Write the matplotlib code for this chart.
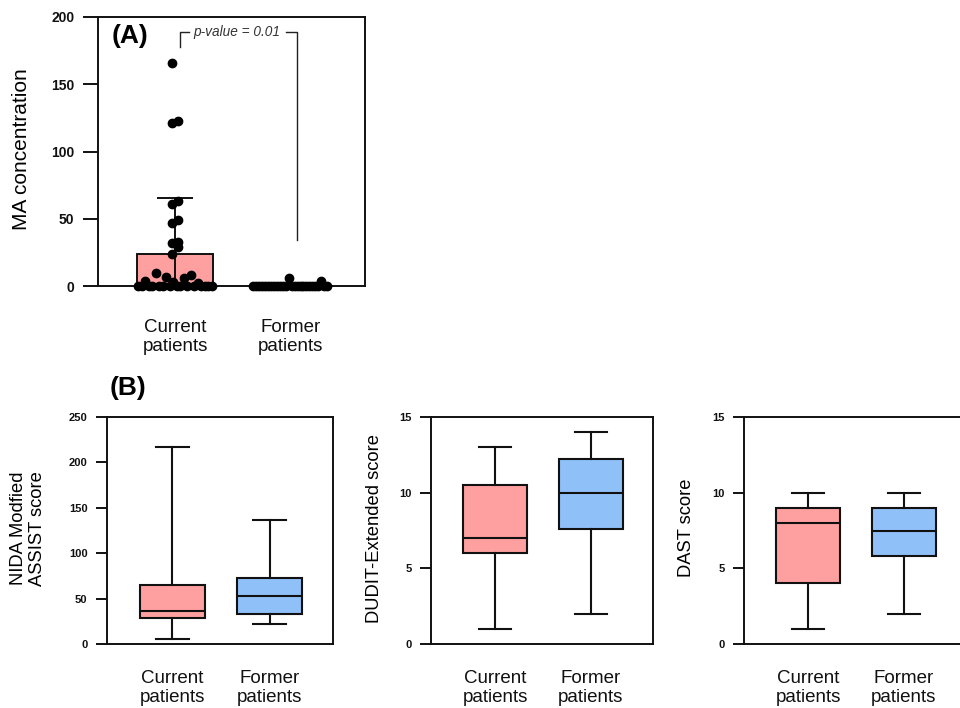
import numpy as np
import matplotlib
matplotlib.use('Agg')
import matplotlib.pyplot as plt

plt.rcParams['font.family'] = ['Liberation Sans', 'DejaVu Sans']

# ---- data ---------------------------------------------------------------
groups = ['Current\npatients', 'Former\npatients']

# (A) MA concentration, individual subjects
current_ma = [166, 123, 121, 63, 61, 49, 47, 33, 32, 29, 24,
              0, 0, 4, 0, 0, 10, 0, 0, 7, 0, 3, 0, 0, 6, 0, 8, 0, 2, 0, 0, 0, 0]
former_ma = [0, 0, 0, 0, 0, 0, 0, 0, 0, 0, 0, 0, 6, 0, 0, 0, 0, 0, 0, 0,
             0, 0, 0, 4, 0, 0]
p_text = 'p-value = 0.01'

# (B) box plot summaries: whislo, q1, med, q3, whishi
assist_current = [5, 29, 36, 65, 217]
assist_former = [22, 33, 53, 73, 137]
dudit_current = [1, 6, 7, 10.5, 13]
dudit_former = [2, 7.6, 10, 12.2, 14]
dast_current = [1, 4, 8, 9, 10]
dast_former = [2, 5.8, 7.5, 9, 10]

ylabels_b = ['NIDA Modfied\nASSIST score', 'DUDIT-Extended score', 'DAST score']
ylims_b = [250, 15, 15]
yticks_b = [np.arange(0, 251, 50), np.arange(0, 16, 5), np.arange(0, 16, 5)]

pink = '#FFA0A0'
blue = '#90C0F8'
W, H = 960, 708


def style_axes(ax, ticksize, ticklen):
    for s in ax.spines.values():
        s.set_linewidth(1.4)
        s.set_color('#111111')
    ax.tick_params(axis='y', direction='out', length=ticklen, width=1.4,
                   labelsize=ticksize, pad=6, colors='#111111')
    ax.tick_params(axis='x', length=0, labelsize=13.5, colors='#111111')
    for t in ax.get_yticklabels():
        t.set_fontweight('bold')
    ax.set_xlim(-0.67, 1.65)
    ax.set_xticks([0, 1])
    ax.set_xticklabels(groups, linespacing=1.15)


def spread(vals, width):
    vals = np.asarray(vals, dtype=float)
    x = np.zeros(len(vals))
    low = np.where(vals < 12)[0]
    high = np.where(vals >= 12)[0]
    x[low] = np.linspace(-width, width, len(low))
    x[high] = 0.025 * np.where(np.arange(len(high)) % 2 == 0, -1, 1)
    return x


fig = plt.figure(figsize=(W / 100, H / 100), dpi=100)

# ---- panel A ------------------------------------------------------------
axA = fig.add_axes([98 / W, 1 - 286 / H, 267 / W, 269 / H])
means = [np.mean(current_ma), np.mean(former_ma)]
sds = [np.std(current_ma, ddof=1), np.std(former_ma, ddof=1)]
axA.bar([0, 1], means, width=0.66, color=pink, edgecolor='#111111',
        linewidth=1.4, zorder=1)
axA.errorbar([0, 1], means, yerr=sds, fmt='none', ecolor='#111111',
             elinewidth=1.4, capsize=13, capthick=1.4, zorder=2)
for i, vals in enumerate([current_ma, former_ma]):
    xs = i + spread(vals, 0.32)
    axA.plot(xs, vals, 'o', color='black', markersize=6, clip_on=False,
             zorder=3)
axA.set_ylim(0, 200)
axA.set_yticks(np.arange(0, 201, 50))
style_axes(axA, 10, 11)
axA.tick_params(axis='x', pad=24)
axA.set_ylabel('MA concentration', fontsize=15)
axA.yaxis.set_label_coords(-0.25, 0.51)

# significance bracket
bx0, bx1, btop = 0.04, 1.06, 189
axA.plot([bx0, bx0, 0.12], [178, btop, btop], color='#222222', lw=1)
axA.plot([0.96, bx1, bx1], [btop, btop, 34], color='#222222', lw=1)
axA.text(0.54, btop, p_text, style='italic', fontsize=9.8, color='#333333',
         ha='center', va='center')
axA.text(0.05, 0.93, '(A)', transform=axA.transAxes, fontsize=19,
         fontweight='bold', va='center')

# ---- panel B ------------------------------------------------------------
fig.text(110 / W, 1 - 388 / H, '(B)', fontsize=19, fontweight='bold',
         va='center')

b_data = [(assist_current, assist_former), (dudit_current, dudit_former),
          (dast_current, dast_former)]
lefts = [107, 431, 744]
widths = [226, 222, 222]
label_x = [-0.27, -0.215, -0.22]

for k, (cur, frm) in enumerate(b_data):
    ax = fig.add_axes([lefts[k] / W, 1 - 644 / H, widths[k] / W, 227 / H])
    stats = []
    for s in (cur, frm):
        stats.append(dict(whislo=s[0], q1=s[1], med=s[2], q3=s[3],
                          whishi=s[4], fliers=[]))
    bp = ax.bxp(stats, positions=[0, 1], widths=0.67, patch_artist=True,
                showfliers=False,
                boxprops=dict(linewidth=1.5, edgecolor='#111111'),
                medianprops=dict(color='#111111', linewidth=1.5),
                whiskerprops=dict(color='#111111', linewidth=1.5),
                capprops=dict(color='#111111', linewidth=1.5),
                capwidths=0.34)
    for patch, c in zip(bp['boxes'], [pink, blue]):
        patch.set_facecolor(c)
    ax.set_ylim(0, ylims_b[k])
    ax.set_yticks(yticks_b[k])
    style_axes(ax, 8, 8)
    ax.tick_params(axis='x', pad=19)
    ax.set_ylabel(ylabels_b[k], fontsize=13.2, linespacing=1.15)
    ax.yaxis.set_label_coords(label_x[k], 0.51)

fig.savefig('out.png', dpi=100, facecolor='white')
